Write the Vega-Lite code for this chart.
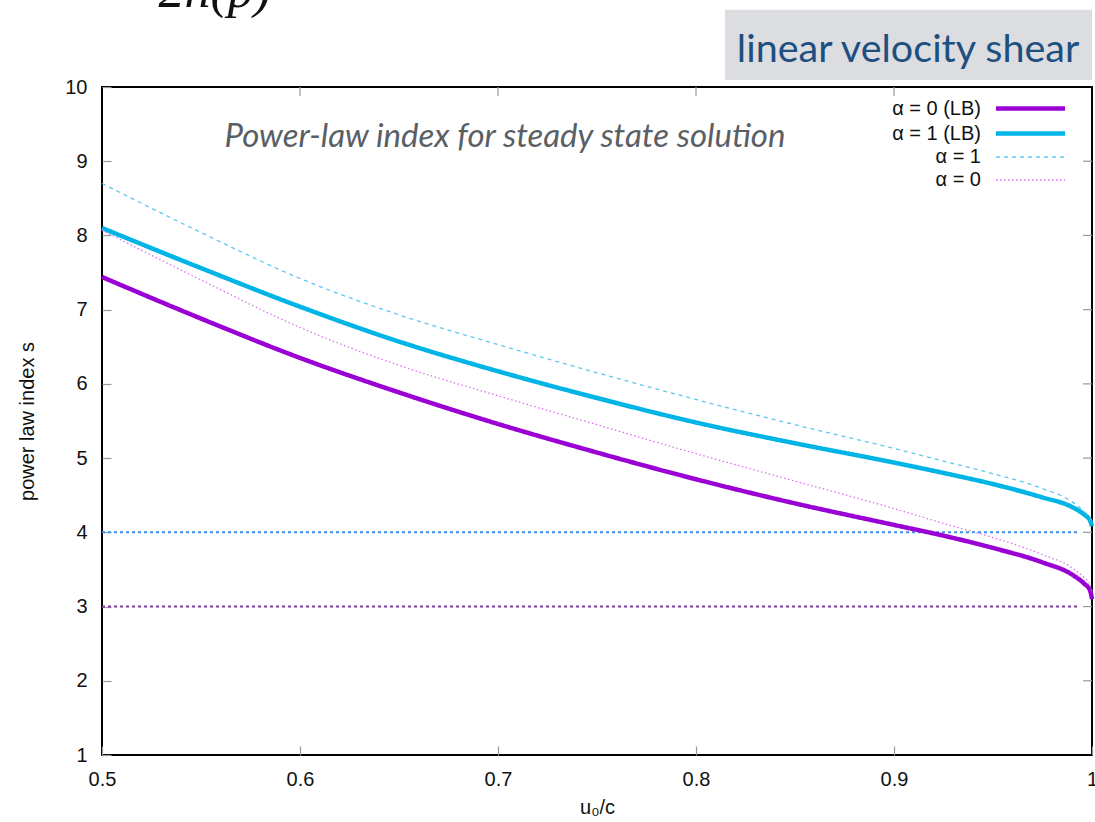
{
  "$schema": "https://vega.github.io/schema/vega-lite/v6.json",
  "width": 990,
  "height": 668,
  "autosize": {"type": "none"},
  "padding": {"left": 102, "top": 87, "right": 3, "bottom": 67},
  "background": "white",
  "config": {
    "view": {"stroke": "black", "strokeWidth": 2},
    "font": "Liberation Sans",
    "axis": {
      "domain": false,
      "grid": false,
      "tickColor": "#999999",
      "tickSize": -9,
      "tickWidth": 1.2,
      "labelFont": "Liberation Sans",
      "labelFontSize": 20,
      "labelColor": "#111111",
      "labelFlush": false,
      "titleFont": "Liberation Sans",
      "titleFontSize": 20,
      "titleFontWeight": "normal",
      "titleColor": "#111111"
    }
  },
  "datasets": {
    "curves": [
      {"series": "α = 0 (LB)", "x": 0.5, "y": 7.44},
      {"series": "α = 0 (LB)", "x": 0.55, "y": 6.88},
      {"series": "α = 0 (LB)", "x": 0.6, "y": 6.35},
      {"series": "α = 0 (LB)", "x": 0.65, "y": 5.885},
      {"series": "α = 0 (LB)", "x": 0.7, "y": 5.46},
      {"series": "α = 0 (LB)", "x": 0.75, "y": 5.075},
      {"series": "α = 0 (LB)", "x": 0.8, "y": 4.715},
      {"series": "α = 0 (LB)", "x": 0.85, "y": 4.39},
      {"series": "α = 0 (LB)", "x": 0.9, "y": 4.1},
      {"series": "α = 0 (LB)", "x": 0.925, "y": 3.955},
      {"series": "α = 0 (LB)", "x": 0.95, "y": 3.79},
      {"series": "α = 0 (LB)", "x": 0.975, "y": 3.595},
      {"series": "α = 0 (LB)", "x": 0.99, "y": 3.43},
      {"series": "α = 0 (LB)", "x": 0.996, "y": 3.31},
      {"series": "α = 0 (LB)", "x": 0.999, "y": 3.22},
      {"series": "α = 0 (LB)", "x": 1.0, "y": 3.1},
      {"series": "α = 1 (LB)", "x": 0.5, "y": 8.1},
      {"series": "α = 1 (LB)", "x": 0.55, "y": 7.56},
      {"series": "α = 1 (LB)", "x": 0.6, "y": 7.04},
      {"series": "α = 1 (LB)", "x": 0.65, "y": 6.57},
      {"series": "α = 1 (LB)", "x": 0.7, "y": 6.17},
      {"series": "α = 1 (LB)", "x": 0.75, "y": 5.81},
      {"series": "α = 1 (LB)", "x": 0.8, "y": 5.48},
      {"series": "α = 1 (LB)", "x": 0.85, "y": 5.2},
      {"series": "α = 1 (LB)", "x": 0.9, "y": 4.94},
      {"series": "α = 1 (LB)", "x": 0.925, "y": 4.8},
      {"series": "α = 1 (LB)", "x": 0.95, "y": 4.65},
      {"series": "α = 1 (LB)", "x": 0.975, "y": 4.47},
      {"series": "α = 1 (LB)", "x": 0.99, "y": 4.34},
      {"series": "α = 1 (LB)", "x": 0.996, "y": 4.24},
      {"series": "α = 1 (LB)", "x": 0.999, "y": 4.16},
      {"series": "α = 1 (LB)", "x": 1.0, "y": 4.08},
      {"series": "α = 1", "x": 0.5, "y": 8.7},
      {"series": "α = 1", "x": 0.55, "y": 8.04},
      {"series": "α = 1", "x": 0.6, "y": 7.42},
      {"series": "α = 1", "x": 0.65, "y": 6.93},
      {"series": "α = 1", "x": 0.7, "y": 6.53},
      {"series": "α = 1", "x": 0.75, "y": 6.15},
      {"series": "α = 1", "x": 0.8, "y": 5.79},
      {"series": "α = 1", "x": 0.85, "y": 5.45},
      {"series": "α = 1", "x": 0.9, "y": 5.13},
      {"series": "α = 1", "x": 0.925, "y": 4.96},
      {"series": "α = 1", "x": 0.95, "y": 4.79},
      {"series": "α = 1", "x": 0.975, "y": 4.59},
      {"series": "α = 1", "x": 0.99, "y": 4.41},
      {"series": "α = 1", "x": 0.996, "y": 4.28},
      {"series": "α = 1", "x": 0.999, "y": 4.2},
      {"series": "α = 1", "x": 1.0, "y": 4.15},
      {"series": "α = 0", "x": 0.5, "y": 8.07},
      {"series": "α = 0", "x": 0.55, "y": 7.4},
      {"series": "α = 0", "x": 0.6, "y": 6.76},
      {"series": "α = 0", "x": 0.65, "y": 6.25},
      {"series": "α = 0", "x": 0.7, "y": 5.84},
      {"series": "α = 0", "x": 0.75, "y": 5.45},
      {"series": "α = 0", "x": 0.8, "y": 5.06},
      {"series": "α = 0", "x": 0.85, "y": 4.69},
      {"series": "α = 0", "x": 0.9, "y": 4.32},
      {"series": "α = 0", "x": 0.925, "y": 4.12},
      {"series": "α = 0", "x": 0.95, "y": 3.93},
      {"series": "α = 0", "x": 0.975, "y": 3.7},
      {"series": "α = 0", "x": 0.99, "y": 3.52},
      {"series": "α = 0", "x": 0.996, "y": 3.39},
      {"series": "α = 0", "x": 0.999, "y": 3.29},
      {"series": "α = 0", "x": 1.0, "y": 3.2}
    ]
  },
  "encoding": {
    "x": {
      "field": "x",
      "type": "quantitative",
      "title": "u₀/c",
      "scale": {"domain": [0.5, 1], "nice": false, "zero": false},
      "axis": {"values": [0.5, 0.6, 0.7, 0.8, 0.9, 1], "format": ".1~f", "labelPadding": 23, "titlePadding": 8, "labelFontSize": 20, "titleFontSize": 20}
    },
    "y": {
      "field": "y",
      "type": "quantitative",
      "title": "power law index s",
      "scale": {"domain": [1, 10], "nice": false, "zero": false},
      "axis": {"values": [1, 2, 3, 4, 5, 6, 7, 8, 9, 10], "labelPadding": 24, "titlePadding": 27, "labelFontSize": 20, "titleFontSize": 20}
    }
  },
  "layer": [
    {
      "data": {"values": [{"x": 0.8146, "xe": 1.0, "y": 10.094, "ye": 11.04}]},
      "mark": {"type": "rect", "color": "#dcdde0", "clip": false},
      "encoding": {"x2": {"field": "xe"}, "y2": {"field": "ye"}}
    },
    {
      "data": {"values": [{"x": 0.9071, "y": 10.337, "label": "linear velocity shear"}]},
      "mark": {"type": "text", "font": "Lato", "fontSize": 39.5, "color": "#1d4f80", "align": "center", "baseline": "alphabetic", "clip": false},
      "encoding": {"text": {"field": "label"}}
    },
    {
      "data": {"values": [{"x": 0.557, "y": 11.078, "label": "2n(p)"}]},
      "mark": {"type": "text", "font": "Liberation Serif", "fontStyle": "italic", "fontSize": 52, "color": "#111111", "align": "center", "baseline": "alphabetic", "clip": false},
      "encoding": {"text": {"field": "label"}}
    },
    {
      "data": {"values": [{"x": 0.7035, "y": 9.192, "label": "Power-law index for steady state solution"}]},
      "mark": {"type": "text", "font": "Lato", "fontStyle": "italic", "fontSize": 33, "color": "#5a5f66", "align": "center", "baseline": "alphabetic"},
      "encoding": {"text": {"field": "label"}}
    },
    {
      "data": {"values": [{"x": 1, "y": 2}, {"x": 1, "y": 3}, {"x": 1, "y": 4}, {"x": 1, "y": 5}, {"x": 1, "y": 6}, {"x": 1, "y": 7}, {"x": 1, "y": 8}, {"x": 1, "y": 9}]},
      "mark": {"type": "tick", "orient": "horizontal", "size": 18, "thickness": 1.2, "color": "#999999", "opacity": 1, "clip": true}
    },
    {
      "data": {"values": [{"x": 0.6, "y": 10}, {"x": 0.7, "y": 10}, {"x": 0.8, "y": 10}, {"x": 0.9, "y": 10}]},
      "mark": {"type": "tick", "orient": "vertical", "size": 18, "thickness": 1.2, "color": "#999999", "opacity": 1, "clip": true}
    },
    {
      "data": {"values": [{"x": 0.5, "xe": 0.993, "y": 4}, {"x": 0.5, "xe": 0.993, "y": 3}]},
      "mark": {"type": "rule", "strokeWidth": 2, "strokeDash": [3, 3]},
      "encoding": {
        "x2": {"field": "xe"},
        "color": {"condition": {"test": "datum.y == 4", "value": "#3b8ee8"}, "value": "#7a3a9e"}
      }
    },
    {
      "data": {"name": "curves"},
      "mark": {"type": "line", "interpolate": "monotone"},
      "encoding": {
        "color": {
          "field": "series",
          "type": "nominal",
          "scale": {"domain": ["α = 0 (LB)", "α = 1 (LB)", "α = 1", "α = 0"], "range": ["#9a00d4", "#00b4e6", "#5cc8ee", "#dd70ee"]},
          "legend": {
            "title": null,
            "orient": "none",
            "legendX": 776,
            "legendY": 9,
            "symbolType": "M-3.45,0H3.45",
            "symbolSize": 400,
            "symbolOffset": 140,
            "labelAlign": "right",
            "labelOffset": -62,
            "labelFont": "Liberation Sans",
            "labelFontSize": 20,
            "labelColor": "#111111",
            "rowPadding": 2,
            "padding": 0
          }
        },
        "strokeDash": {
          "field": "series",
          "type": "nominal",
          "scale": {"domain": ["α = 0 (LB)", "α = 1 (LB)", "α = 1", "α = 0"], "range": [[1, 0], [1, 0], [4, 4], [1.5, 2.5]]}
        },
        "strokeWidth": {
          "field": "series",
          "type": "nominal",
          "scale": {"type": "ordinal", "domain": ["α = 0 (LB)", "α = 1 (LB)", "α = 1", "α = 0"], "range": [4.5, 4.5, 1.3, 1.3]}
        },
        "order": {"field": "x"}
      }
    }
  ]
}
